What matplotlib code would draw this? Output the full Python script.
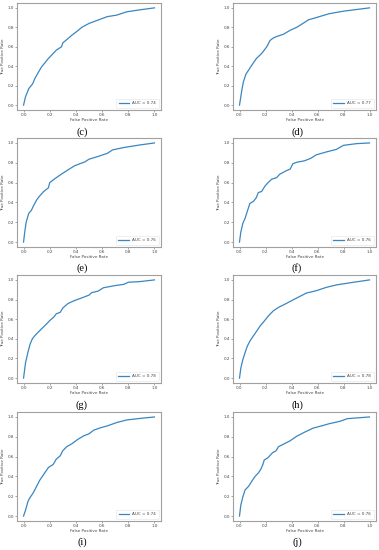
import matplotlib.pyplot as plt

# ROC curve points, one pair of lists per panel
fpr_c = [0, 0.015, 0.04, 0.07, 0.085, 0.11, 0.136, 0.19, 0.226, 0.25, 0.29, 0.30, 0.34, 0.37, 0.41, 0.445, 0.5, 0.56, 0.64, 0.71, 0.79, 0.89, 1.0]
tpr_c = [0, 0.086, 0.17, 0.22, 0.27, 0.33, 0.39, 0.48, 0.53, 0.565, 0.60, 0.64, 0.685, 0.72, 0.76, 0.80, 0.84, 0.87, 0.91, 0.925, 0.96, 0.98, 1.0]

fpr_d = [0, 0.018, 0.03, 0.05, 0.07, 0.094, 0.13, 0.17, 0.21, 0.235, 0.26, 0.285, 0.34, 0.39, 0.44, 0.5, 0.53, 0.59, 0.69, 0.8, 0.9, 1.0]
tpr_d = [0, 0.154, 0.24, 0.32, 0.36, 0.41, 0.48, 0.53, 0.60, 0.665, 0.69, 0.705, 0.73, 0.77, 0.80, 0.85, 0.877, 0.90, 0.94, 0.966, 0.983, 1.0]

fpr_e = [0, 0.01, 0.02, 0.04, 0.06, 0.072, 0.1, 0.12, 0.154, 0.19, 0.2, 0.24, 0.29, 0.33, 0.39, 0.47, 0.5, 0.56, 0.64, 0.68, 0.77, 0.89, 1.0]
tpr_e = [0, 0.11, 0.2, 0.29, 0.32, 0.355, 0.425, 0.46, 0.51, 0.547, 0.6, 0.64, 0.686, 0.72, 0.77, 0.81, 0.836, 0.86, 0.895, 0.93, 0.955, 0.98, 1.0]

fpr_f = [0, 0.01, 0.026, 0.043, 0.06, 0.08, 0.107, 0.128, 0.145, 0.17, 0.196, 0.22, 0.247, 0.286, 0.31, 0.36, 0.39, 0.41, 0.44, 0.5, 0.55, 0.59, 0.67, 0.745, 0.8, 0.9, 1.0]
tpr_f = [0, 0.1, 0.19, 0.24, 0.31, 0.39, 0.41, 0.445, 0.5, 0.51, 0.565, 0.6, 0.634, 0.65, 0.685, 0.72, 0.736, 0.79, 0.805, 0.82, 0.846, 0.88, 0.91, 0.935, 0.976, 0.993, 1.0]

fpr_g = [0, 0.015, 0.033, 0.05, 0.067, 0.085, 0.11, 0.136, 0.175, 0.2, 0.23, 0.25, 0.28, 0.3, 0.34, 0.39, 0.445, 0.5, 0.52, 0.57, 0.61, 0.69, 0.766, 0.8, 0.89, 1.0]
tpr_g = [0, 0.155, 0.26, 0.345, 0.4, 0.43, 0.465, 0.5, 0.55, 0.586, 0.62, 0.655, 0.67, 0.714, 0.76, 0.79, 0.817, 0.845, 0.87, 0.886, 0.92, 0.94, 0.955, 0.976, 0.983, 1.0]

fpr_h = [0, 0.01, 0.026, 0.043, 0.06, 0.08, 0.107, 0.133, 0.158, 0.19, 0.22, 0.26, 0.3, 0.35, 0.4, 0.464, 0.515, 0.59, 0.668, 0.745, 0.847, 1.0]
tpr_h = [0, 0.1, 0.19, 0.26, 0.325, 0.377, 0.43, 0.48, 0.53, 0.58, 0.63, 0.685, 0.72, 0.753, 0.788, 0.832, 0.866, 0.89, 0.924, 0.949, 0.97, 1.0]

fpr_i = [0, 0.015, 0.033, 0.046, 0.072, 0.1, 0.123, 0.162, 0.19, 0.226, 0.25, 0.28, 0.3, 0.33, 0.37, 0.41, 0.46, 0.5, 0.535, 0.586, 0.64, 0.715, 0.79, 0.895, 1.0]
tpr_i = [0, 0.058, 0.144, 0.18, 0.23, 0.3, 0.36, 0.436, 0.49, 0.52, 0.574, 0.608, 0.66, 0.7, 0.73, 0.77, 0.81, 0.83, 0.866, 0.89, 0.91, 0.945, 0.97, 0.986, 1.0]

fpr_j = [0, 0.01, 0.026, 0.043, 0.07, 0.094, 0.12, 0.145, 0.163, 0.18, 0.19, 0.22, 0.255, 0.28, 0.3, 0.35, 0.39, 0.44, 0.5, 0.566, 0.643, 0.69, 0.77, 0.83, 1.0]
tpr_j = [0, 0.11, 0.195, 0.264, 0.3, 0.35, 0.4, 0.435, 0.47, 0.52, 0.565, 0.59, 0.64, 0.657, 0.7, 0.733, 0.76, 0.805, 0.846, 0.887, 0.914, 0.932, 0.955, 0.983, 1.0]

panel_labels = ['(c)', '(d)', '(e)', '(f)', '(g)', '(h)', '(i)', '(j)']
auc_values = [0.74, 0.77, 0.76, 0.76, 0.78, 0.78, 0.74, 0.76]
fprs = [fpr_c, fpr_d, fpr_e, fpr_f, fpr_g, fpr_h, fpr_i, fpr_j]
tprs = [tpr_c, tpr_d, tpr_e, tpr_f, tpr_g, tpr_h, tpr_i, tpr_j]

W, H = 379, 550
fig = plt.figure(figsize=(W / 100, H / 100), dpi=100)

# axes boxes in pixels: (left, right) per column, (top, bottom) per row
col_x = [(17, 161), (233, 376)]
row_y = [(3, 110), (138, 247), (275, 383), (412, 521)]
label_x = [82, 297]
label_y = [132, 268, 405, 542]

for k in range(8):
    r, c = divmod(k, 2)
    x0, x1 = col_x[c]
    y0, y1 = row_y[r]
    ax = fig.add_axes([x0 / W, 1 - y1 / H, (x1 - x0) / W, (y1 - y0) / H])
    ax.plot(fprs[k], tprs[k], color='#3a86c0', linewidth=0.9,
            label='AUC = %.2f' % auc_values[k])
    ax.set_xlim(-0.05, 1.05)
    ax.set_ylim(-0.05, 1.05)
    ax.set_xticks([0, 0.2, 0.4, 0.6, 0.8, 1.0])
    ax.set_yticks([0, 0.2, 0.4, 0.6, 0.8, 1.0])
    ax.tick_params(labelsize=3, length=1.2, width=0.4, pad=1, color='#666666', labelcolor='#444444')
    ax.set_xlabel('False Positive Rate', fontsize=3, labelpad=1, color='#444444')
    ax.set_ylabel('True Positive Rate', fontsize=3, labelpad=1.5, color='#444444')
    for s in ax.spines.values():
        s.set_color('#a0a0a0')
        s.set_linewidth(0.8)
    leg = ax.legend(loc='lower right', fontsize=3, handlelength=2.5, borderpad=0.6,
                    handletextpad=0.8, borderaxespad=0.6, labelcolor='#444444')
    leg.get_frame().set_linewidth(0.4)
    leg.get_frame().set_edgecolor('#dddddd')
    fig.text(label_x[c] / W, 1 - label_y[r] / H, panel_labels[k], ha='center', va='center',
             fontsize=7.5, family='Liberation Serif')

fig.savefig('out.png', dpi=100)
